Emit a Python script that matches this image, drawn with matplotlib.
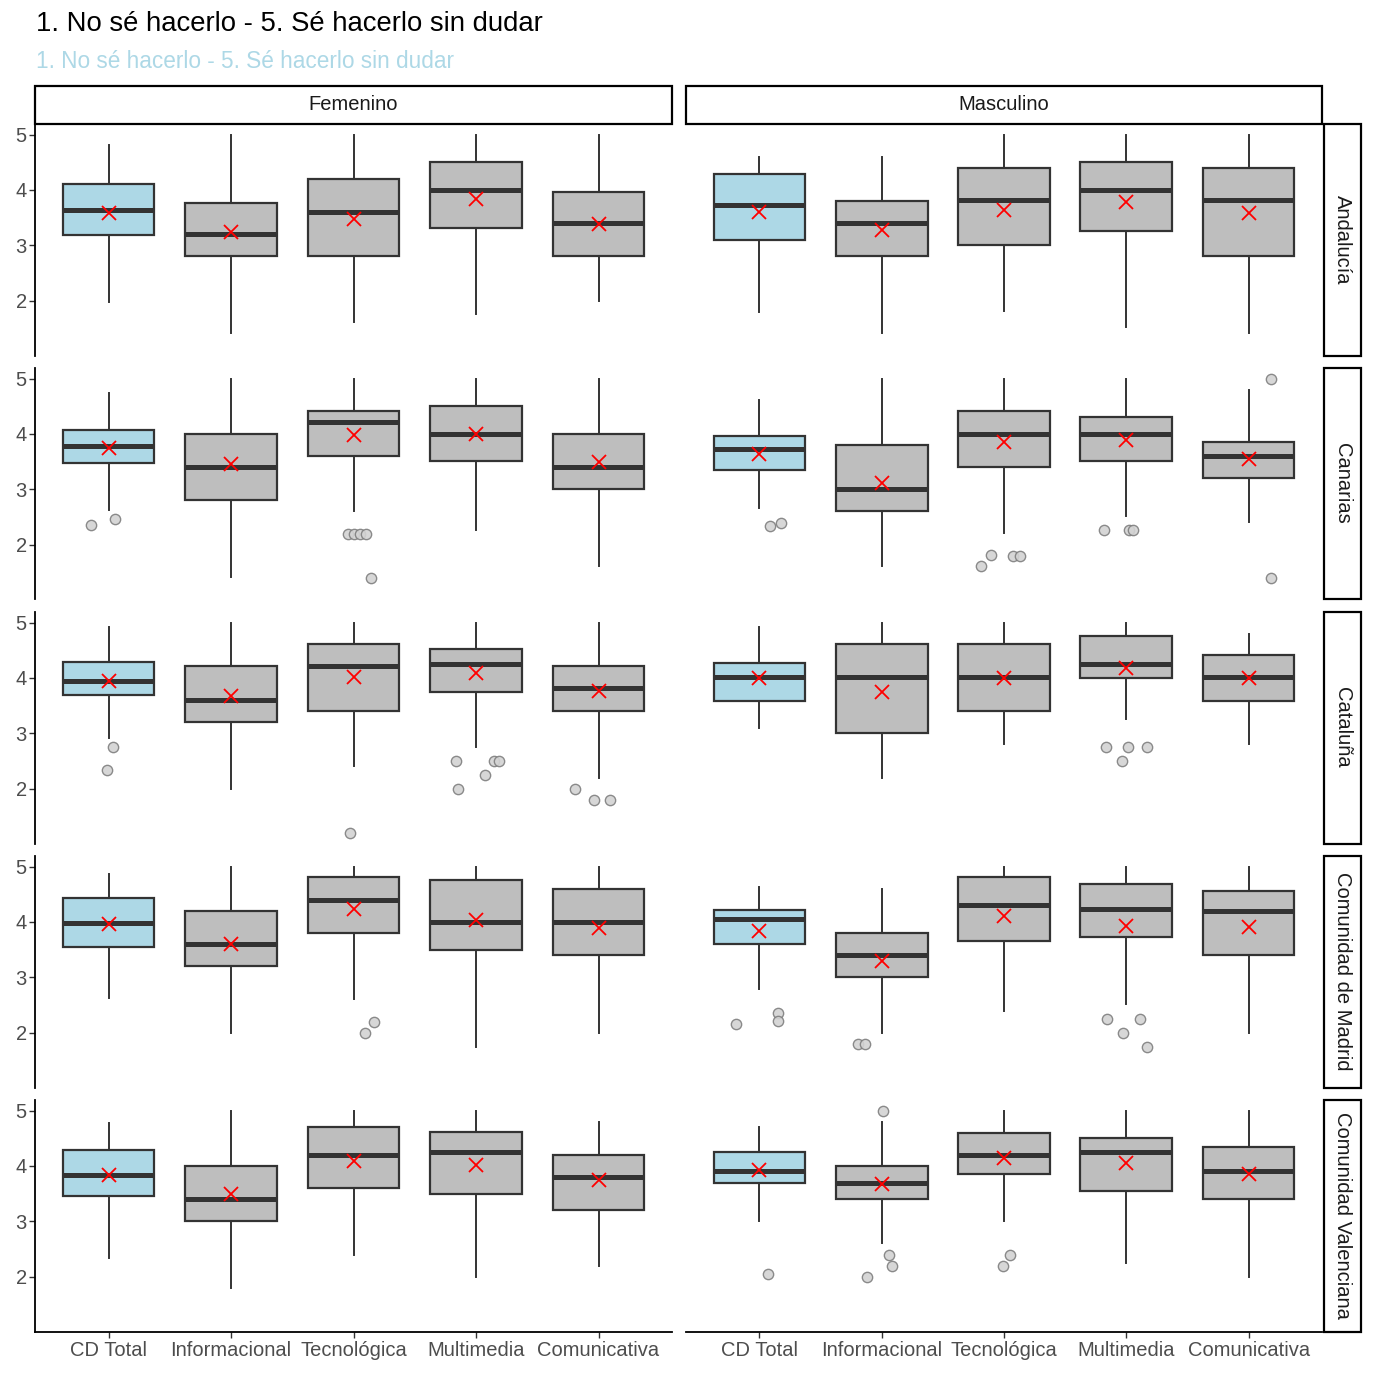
import matplotlib
matplotlib.use("Agg")
import matplotlib.pyplot as plt
from matplotlib.patches import Rectangle

plt.rcParams['font.family'] = ['Liberation Sans', 'DejaVu Sans']

# ---------------- data ----------------
title_text = "1. No sé hacerlo - 5. Sé hacerlo sin dudar"
subtitle_text = "1. No sé hacerlo - 5. Sé hacerlo sin dudar"
regions = ["Andalucía", "Canarias", "Cataluña", "Comunidad de Madrid", "Comunidad Valenciana"]
genders = ["Femenino", "Masculino"]
categories = ["CD Total", "Informacional", "Tecnológica", "Multimedia", "Comunicativa"]
y_ticks = [2, 3, 4, 5]

# [region][gender] -> values per category
whisker_high = [
    [[4.81, 5.00, 5.00, 5.00, 5.00], [4.60, 4.60, 5.00, 5.00, 5.00]],
    [[4.74, 5.00, 5.00, 5.00, 5.00], [4.61, 5.00, 5.00, 5.00, 4.80]],
    [[4.92, 5.00, 5.00, 5.00, 5.00], [4.92, 5.00, 5.00, 5.00, 4.80]],
    [[4.87, 5.00, 5.00, 5.00, 5.00], [4.63, 4.59, 5.00, 5.00, 5.00]],
    [[4.78, 5.00, 5.00, 5.00, 4.80], [4.71, 4.79, 5.00, 5.00, 5.00]],
]
q3_vals = [
    [[4.11, 3.76, 4.20, 4.50, 3.96], [4.29, 3.80, 4.40, 4.51, 4.40]],
    [[4.07, 4.00, 4.41, 4.51, 4.00], [3.96, 3.80, 4.41, 4.31, 3.86]],
    [[4.28, 4.21, 4.61, 4.52, 4.21], [4.27, 4.61, 4.61, 4.76, 4.41]],
    [[4.43, 4.20, 4.81, 4.75, 4.60], [4.21, 3.80, 4.81, 4.69, 4.55]],
    [[4.29, 4.00, 4.70, 4.62, 4.20], [4.25, 4.00, 4.60, 4.50, 4.35]],
]
median_vals = [
    [[3.63, 3.20, 3.60, 4.00, 3.41], [3.72, 3.40, 3.81, 4.00, 3.81]],
    [[3.78, 3.40, 4.21, 4.00, 3.40], [3.73, 3.00, 4.00, 4.00, 3.60]],
    [[3.95, 3.60, 4.21, 4.26, 3.81], [4.02, 4.02, 4.02, 4.25, 4.02]],
    [[3.98, 3.60, 4.40, 4.00, 4.00], [4.06, 3.40, 4.30, 4.24, 4.20]],
    [[3.84, 3.40, 4.20, 4.25, 3.80], [3.90, 3.70, 4.20, 4.25, 3.90]],
]
q1_vals = [
    [[3.19, 2.80, 2.80, 3.31, 2.80], [3.10, 2.81, 3.00, 3.25, 2.81]],
    [[3.47, 2.81, 3.60, 3.51, 3.00], [3.35, 2.60, 3.40, 3.51, 3.20]],
    [[3.69, 3.21, 3.40, 3.75, 3.40], [3.59, 3.00, 3.40, 4.00, 3.59]],
    [[3.54, 3.20, 3.80, 3.50, 3.40], [3.61, 3.00, 3.65, 3.73, 3.40]],
    [[3.45, 3.00, 3.60, 3.50, 3.20], [3.70, 3.40, 3.85, 3.55, 3.40]],
]
whisker_low = [
    [[1.97, 1.41, 1.61, 1.76, 2.00], [1.79, 1.41, 1.82, 1.52, 1.41]],
    [[2.62, 1.42, 2.61, 2.26, 1.61], [2.67, 1.61, 2.21, 2.51, 2.41]],
    [[2.92, 2.00, 2.41, 2.75, 2.20], [3.09, 2.20, 2.81, 3.26, 2.81]],
    [[2.63, 2.00, 2.61, 1.75, 2.00], [2.78, 2.00, 2.40, 2.51, 2.00]],
    [[2.34, 1.80, 2.40, 2.00, 2.20], [3.01, 2.60, 3.01, 2.25, 2.00]],
]
mean_vals = [
    [[3.58, 3.24, 3.48, 3.84, 3.39], [3.60, 3.28, 3.63, 3.78, 3.58]],
    [[3.75, 3.45, 3.98, 3.99, 3.49], [3.64, 3.12, 3.86, 3.89, 3.55]],
    [[3.95, 3.67, 4.02, 4.09, 3.76], [4.00, 3.75, 4.00, 4.18, 4.00]],
    [[3.96, 3.61, 4.23, 4.04, 3.89], [3.84, 3.30, 4.10, 3.92, 3.90]],
    [[3.84, 3.49, 4.09, 4.02, 3.74], [3.93, 3.67, 4.14, 4.05, 3.85]],
]
# outliers: (region, gender, category, value)
outliers = [
    (1, 0, 0, 2.35), (1, 0, 0, 2.47),
    (1, 0, 2, 2.20), (1, 0, 2, 2.20), (1, 0, 2, 2.20), (1, 0, 2, 2.20), (1, 0, 2, 1.40),
    (1, 1, 0, 2.34), (1, 1, 0, 2.39),
    (1, 1, 2, 1.61), (1, 1, 2, 1.81), (1, 1, 2, 1.80), (1, 1, 2, 1.80),
    (1, 1, 3, 2.26), (1, 1, 3, 2.26), (1, 1, 3, 2.26),
    (1, 1, 4, 5.00), (1, 1, 4, 1.40),
    (2, 0, 0, 2.75), (2, 0, 0, 2.34),
    (2, 0, 2, 1.20),
    (2, 0, 3, 2.50), (2, 0, 3, 2.50), (2, 0, 3, 2.50), (2, 0, 3, 2.25), (2, 0, 3, 2.00),
    (2, 0, 4, 2.00), (2, 0, 4, 1.80), (2, 0, 4, 1.80),
    (2, 1, 3, 2.75), (2, 1, 3, 2.75), (2, 1, 3, 2.75), (2, 1, 3, 2.50),
    (3, 0, 2, 2.00), (3, 0, 2, 2.20),
    (3, 1, 0, 2.16), (3, 1, 0, 2.36), (3, 1, 0, 2.21),
    (3, 1, 1, 1.80), (3, 1, 1, 1.80),
    (3, 1, 3, 2.25), (3, 1, 3, 2.25), (3, 1, 3, 2.00), (3, 1, 3, 1.75),
    (4, 1, 0, 2.04),
    (4, 1, 1, 5.00), (4, 1, 1, 2.40), (4, 1, 1, 2.20), (4, 1, 1, 2.00),
    (4, 1, 2, 2.40), (4, 1, 2, 2.20),
]
# horizontal jitter of each outlier (category units)
outlier_jitter = [
    -0.146, 0.05,
    -0.046, 0.007, 0.057, 0.103, 0.146,
    0.089, 0.18,
    -0.19, -0.11, 0.074, 0.128,
    -0.18, 0.025, 0.057,
    0.18, 0.18,
    0.035, -0.014,
    -0.032,
    -0.16, 0.146, 0.188, 0.074, -0.146,
    -0.188, -0.039, 0.092,
    -0.17, 0.01, 0.167, -0.032,
    0.096, 0.167,
    -0.19, 0.153, 0.153,
    -0.19, -0.135,
    -0.16, 0.114, -0.025, 0.17,
    0.071,
    0.014, 0.06, 0.085, -0.124,
    0.05, -0.007,
]

# ---------------- layout ----------------
W = H = 1375
fig = plt.figure(figsize=(W / 100, H / 100), dpi=100)
fig.patch.set_facecolor("white")


def fx(px):
    return px / W


def fy(py):
    return 1 - py / H


col_x = [(35, 672), (686, 1322)]
row_top = [124, 368, 612, 856, 1100]
row_h = 231.5
box_fill = ["#ADD8E6", "#BEBEBE", "#BEBEBE", "#BEBEBE", "#BEBEBE"]
line_col = "#333333"
tick_col = "#4D4D4D"
font_sz = 14.5

positions = list(range(1, len(categories) + 1))

for r, region in enumerate(regions):
    for g, gender in enumerate(genders):
        x0, x1 = col_x[g]
        top = row_top[r]
        ax = fig.add_axes([fx(x0), fy(top + row_h), fx(x1 - x0), row_h / H])
        stats = []
        for c in range(len(categories)):
            stats.append(dict(
                med=median_vals[r][g][c], q1=q1_vals[r][g][c], q3=q3_vals[r][g][c],
                whislo=whisker_low[r][g][c], whishi=whisker_high[r][g][c],
                mean=mean_vals[r][g][c], fliers=[]))
        bp = ax.bxp(stats, positions=positions, widths=0.75, showmeans=True,
                    showfliers=False, showcaps=False, patch_artist=True,
                    boxprops=dict(edgecolor=line_col, linewidth=1.6),
                    whiskerprops=dict(color=line_col, linewidth=1.4),
                    medianprops=dict(color=line_col, linewidth=3.6, solid_capstyle='butt'),
                    meanprops=dict(marker='x', markeredgecolor='red', markerfacecolor='red',
                                   markersize=10, markeredgewidth=1.3, zorder=6))
        for patch, fc in zip(bp['boxes'], box_fill):
            patch.set_facecolor(fc)
            patch.set_zorder(3)
        for m in bp['medians']:
            m.set_zorder(4)
        for w in bp['whiskers']:
            w.set_zorder(2)

        for (rr, gg, cc, val), jit in zip(outliers, outlier_jitter):
            if rr == r and gg == g:
                ax.scatter(positions[cc] + jit, val, s=55, facecolor='#D3D3D3',
                           edgecolor='#7F7F7F', linewidth=1.0, alpha=0.9, zorder=5)

        ax.set_xlim(0.4, len(categories) + 0.6)
        ax.set_ylim(1.01, 5.19)
        for side in ['top', 'right', 'left', 'bottom']:
            ax.spines[side].set_visible(False)
        ax.set_facecolor('white')

        if g == 0:
            ax.spines['left'].set_visible(True)
            ax.spines['left'].set_color('black')
            ax.spines['left'].set_linewidth(1.3)
            ax.set_yticks(y_ticks)
            ax.set_yticklabels([str(t) for t in y_ticks])
            ax.tick_params(axis='y', length=4, width=1.0, color=line_col,
                           labelcolor=tick_col, labelsize=font_sz, pad=2)
        else:
            ax.set_yticks([])
        if r == len(regions) - 1:
            ax.spines['bottom'].set_visible(True)
            ax.spines['bottom'].set_color('black')
            ax.spines['bottom'].set_linewidth(1.3)
            ax.set_xticks(positions)
            ax.set_xticklabels(categories)
            ax.tick_params(axis='x', length=4, width=1.0, color=line_col,
                           labelcolor=tick_col, labelsize=font_sz, pad=3)
        else:
            ax.set_xticks([])

# top strips
for g, gender in enumerate(genders):
    x0, x1 = col_x[g]
    fig.patches.append(Rectangle((fx(x0), fy(124)), fx(x1 - x0), (124 - 86) / H,
                                 transform=fig.transFigure, facecolor='white',
                                 edgecolor='black', linewidth=1.6))
    fig.text(fx((x0 + x1) / 2), fy(105), gender, ha='center', va='center',
             fontsize=font_sz, color='#1A1A1A')

# right strips
for r, region in enumerate(regions):
    top = row_top[r]
    fig.patches.append(Rectangle((fx(1324), fy(top + row_h)), fx(1361 - 1324), row_h / H,
                                 transform=fig.transFigure, facecolor='white',
                                 edgecolor='black', linewidth=1.6))
    fig.text(fx(1342.5), fy(top + row_h / 2), region, ha='center', va='center',
             rotation=-90, fontsize=font_sz, color='#1A1A1A')

fig.text(fx(36), fy(24), title_text, ha='left', va='center', fontsize=19.8, color='black')
fig.text(fx(36), fy(61), subtitle_text, ha='left', va='center', fontsize=16.3, color='#ADD8E6')

fig.savefig("out.png", dpi=100, facecolor='white')
